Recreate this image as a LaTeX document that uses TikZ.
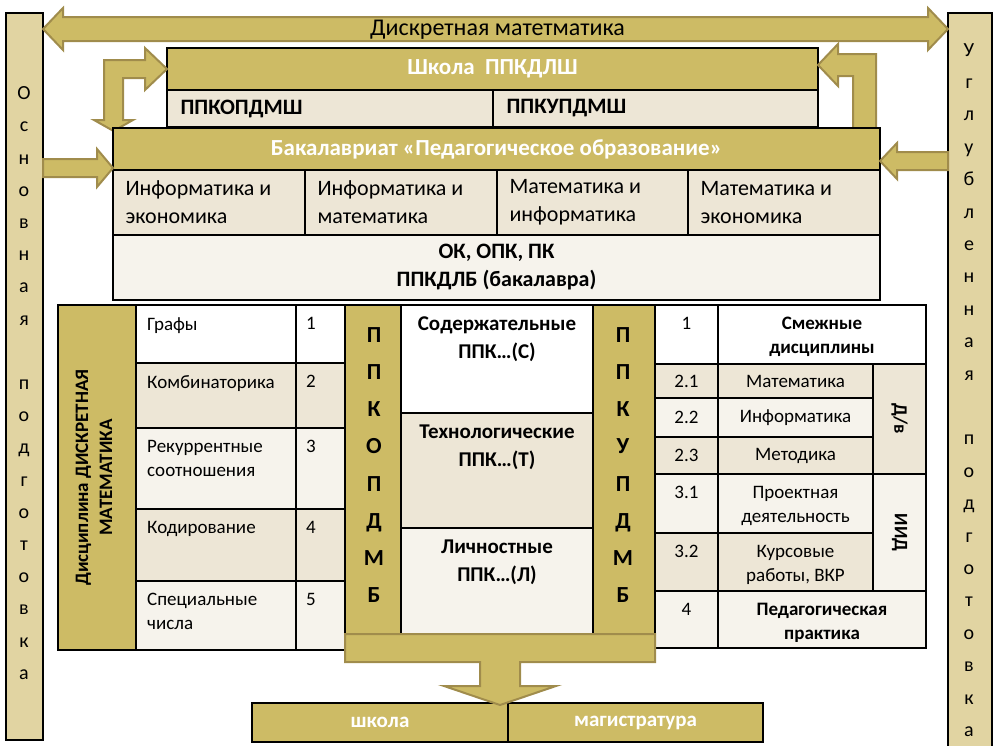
\documentclass[tikz,border=0pt]{standalone}
\usepackage{fontspec}
\setmainfont{Carlito}
\usetikzlibrary{positioning,calc}

\definecolor{gold}{RGB}{205,187,101}
\definecolor{goldedge}{RGB}{160,140,76}
\definecolor{sand}{RGB}{225,212,162}
\definecolor{beige}{RGB}{237,230,214}
\definecolor{cream}{RGB}{246,243,236}

\begin{document}
\begin{tikzpicture}[x=1pt, y=-1pt,
    cell/.style={draw, line width=1.5pt, anchor=north west, inner sep=0pt, outer sep=0pt},
    goldarrow/.style={fill=gold, draw=goldedge, line width=2pt, line join=miter},
    hdr/.style={text=white, font=\fontsize{23}{28}\selectfont\bfseries},
    big/.style={font=\fontsize{22}{28}\selectfont},
    bigbold/.style={font=\fontsize{22}{28}\selectfont\bfseries},
    small/.style={font=\fontsize{19}{24}\selectfont},
    smallbold/.style={font=\fontsize{19}{24}\selectfont\bfseries},
    midbold/.style={font=\fontsize{21}{28}\selectfont\bfseries},
    letters/.style={align=center, inner sep=0pt, font=\fontsize{20}{32.2}\selectfont},
    ]
    \useasboundingbox (0,0) rectangle (993,745);

    % side bars
    \node[cell, fill=sand, minimum width=37pt, minimum height=727pt] (lbar) at (6,13) {};
    \node[cell, fill=sand, minimum width=44pt, minimum height=736pt] (rbar) at (948,13) {};
    \node[letters] (lbartext) at (24,383) {О\\с\\н\\о\\в\\н\\а\\я\\[32.2pt]п\\о\\д\\г\\о\\т\\о\\в\\к\\а};
    \node[letters, font=\fontsize{20}{32.4}\selectfont] (rbartext) at (969,390) {У\\г\\л\\у\\б\\л\\е\\н\\н\\а\\я\\[32.4pt]п\\о\\д\\г\\о\\т\\о\\в\\к\\а};

    % top double arrow
    \coordinate (dmL) at ($(lbar.north east)+(0,16)$);
    \coordinate (dmR) at ($(rbar.north west)+(0,16)$);
    \draw[goldarrow] (dmL) -- ++(20,-21) -- ++(0,9) -- ($(dmR)+(-20,-12)$) -- ++(0,-9) -- (dmR)
        -- ++(-20,21) -- ++(0,-9) -- ($(dmL)+(20,12)$) -- ++(0,9) -- cycle;
    \node[font=\fontsize{24}{29}\selectfont] (dmtext) at ($(dmL)!0.5!(dmR)+(2,1)$) {Дискретная матетматика};

    % school
    \node[cell, fill=gold, minimum width=651pt, minimum height=42pt] (sch) at (167,48) {};
    \node[hdr] (schtext) at (sch.center) {Школа\ \ ППКДЛШ};
    \node[cell, fill=beige, minimum width=326pt, minimum height=37pt] (schL) at (167,90) {};
    \node[cell, fill=beige, minimum width=325pt, minimum height=37pt] (schR) at (493,90) {};
    \node[bigbold, anchor=west] (schLtext) at ([xshift=10pt]schL.west) {ППКОПДМШ};
    \node[bigbold, anchor=west] (schRtext) at ([xshift=10pt]schR.west) {ППКУПДМШ};

    % bent arrows between school and bachelor
    \draw[goldarrow] (sch.west) -- ++(-22,-21) -- ++(0,12) -- ++(-41,0) -- ++(0,60) -- ++(-10,0)
        -- ++(19.5,11) -- ++(19.5,-11) -- ++(-10,0) -- ++(0,-42) -- ++(22,0) -- ++(0,12) -- cycle;
    \draw[goldarrow] ($(sch.east)+(0,-4)$) -- ++(20,-21) -- ++(0,10) -- ++(38,0) -- ++(0,78)
        -- ++(-23,0) -- ++(0,-56) -- ++(-15,0) -- ++(0,10) -- cycle;

    % bachelor
    \node[cell, fill=gold, minimum width=767pt, minimum height=42pt] (bach) at (113,128) {};
    \node[hdr] (bachtext) at (bach.center) {Бакалавриат «Педагогическое образование»};
    \node[cell, fill=beige, minimum width=192pt, minimum height=65pt] (b1) at (113,170) {};
    \node[cell, fill=beige, minimum width=192pt, minimum height=65pt] (b2) at (305,170) {};
    \node[cell, fill=beige, minimum width=191pt, minimum height=65pt] (b3) at (497,170) {};
    \node[cell, fill=beige, minimum width=192pt, minimum height=65pt] (b4) at (688,170) {};
    \node[big, anchor=west, align=left] (b1text) at ([xshift=9pt]b1.west) {Информатика и\\экономика};
    \node[big, anchor=west, align=left] (b2text) at ([xshift=9pt]b2.west) {Информатика и\\математика};
    \node[big, anchor=west, align=left] (b3text) at ([xshift=9pt]b3.west) {Математика и\\информатика};
    \node[big, anchor=west, align=left] (b4text) at ([xshift=9pt]b4.west) {Математика и\\экономика};
    \node[cell, fill=cream, minimum width=767pt, minimum height=65pt] (bok) at (113,235) {};
    \node[bigbold, align=center] (boktext) at (bok.center) {ОК, ОПК, ПК\\ППКДЛБ (бакалавра)};

    % side arrows into bachelor
    \draw[goldarrow] ($(bach.south west)+(0,-2)$) -- ++(-16,-19) -- ++(0,10) -- ++(-54,0) -- ++(0,18)
        -- ++(54,0) -- ++(0,10) -- cycle;
    \draw[goldarrow] ($(bach.east)+(0,12)$) -- ++(17,-18) -- ++(0,9) -- ++(51,0) -- ++(0,18)
        -- ++(-51,0) -- ++(0,9) -- cycle;

    % discipline table
    \node[cell, fill=gold, minimum width=78pt, minimum height=345pt] (disc) at (58,305) {};
    \node[smallbold, rotate=90, align=center] (disctext) at ([xshift=-3pt]disc.center) {Дисциплина ДИСКРЕТНАЯ\\МАТЕМАТИКА};
    \node[cell, fill=white, minimum width=160pt, minimum height=58pt] (c1) at (136,305) {};
    \node[cell, fill=beige, minimum width=160pt, minimum height=65pt] (c2) at (136,363) {};
    \node[cell, fill=cream, minimum width=160pt, minimum height=81pt] (c3) at (136,428) {};
    \node[cell, fill=beige, minimum width=160pt, minimum height=72pt] (c4) at (136,509) {};
    \node[cell, fill=cream, minimum width=160pt, minimum height=69pt] (c5) at (136,581) {};
    \node[cell, fill=white, minimum width=49pt, minimum height=58pt] (n1) at (296,305) {};
    \node[cell, fill=beige, minimum width=49pt, minimum height=65pt] (n2) at (296,363) {};
    \node[cell, fill=cream, minimum width=49pt, minimum height=81pt] (n3) at (296,428) {};
    \node[cell, fill=beige, minimum width=49pt, minimum height=72pt] (n4) at (296,509) {};
    \node[cell, fill=cream, minimum width=49pt, minimum height=69pt] (n5) at (296,581) {};
    \node[small, anchor=north west, inner sep=0pt, align=left] (c1text) at ([xshift=11pt,yshift=-12pt]c1.north west) {Графы};
    \node[small, anchor=north west, inner sep=0pt, align=left] (c2text) at ([xshift=11pt,yshift=-12pt]c2.north west) {Комбинаторика};
    \node[small, anchor=north west, inner sep=0pt, align=left] (c3text) at ([xshift=11pt,yshift=-12pt]c3.north west) {Рекуррентные\\соотношения};
    \node[small, anchor=north west, inner sep=0pt, align=left] (c4text) at ([xshift=11pt,yshift=-12pt]c4.north west) {Кодирование};
    \node[small, anchor=north west, inner sep=0pt, align=left] (c5text) at ([xshift=11pt,yshift=-12pt]c5.north west) {Специальные\\числа};
    \node[small, anchor=north west, inner sep=0pt] (n1text) at ([xshift=10pt,yshift=-12pt]n1.north west) {1};
    \node[small, anchor=north west, inner sep=0pt] (n2text) at ([xshift=10pt,yshift=-12pt]n2.north west) {2};
    \node[small, anchor=north west, inner sep=0pt] (n3text) at ([xshift=10pt,yshift=-12pt]n3.north west) {3};
    \node[small, anchor=north west, inner sep=0pt] (n4text) at ([xshift=10pt,yshift=-12pt]n4.north west) {4};
    \node[small, anchor=north west, inner sep=0pt] (n5text) at ([xshift=10pt,yshift=-12pt]n5.north west) {5};

    % competence columns
    \node[cell, fill=gold, minimum width=56pt, minimum height=329pt] (kop) at (345,305) {};
    \node[cell, fill=gold, minimum width=62pt, minimum height=329pt] (kup) at (593,305) {};
    \node[letters, font=\fontsize{23}{37.1}\selectfont\bfseries] (koptext) at (374,465) {П\\П\\К\\О\\П\\Д\\М\\Б};
    \node[letters, font=\fontsize{23}{37.1}\selectfont\bfseries] (kuptext) at (623,465) {П\\П\\К\\У\\П\\Д\\М\\Б};
    \node[cell, fill=white, minimum width=192pt, minimum height=108pt] (s1) at (401,305) {};
    \node[cell, fill=beige, minimum width=192pt, minimum height=115pt] (s2) at (401,413) {};
    \node[cell, fill=cream, minimum width=192pt, minimum height=106pt] (s3) at (401,528) {};
    \node[midbold, anchor=north, inner sep=0pt, align=center] (s1text) at ([yshift=-12pt]s1.north) {Содержательные\\ППК…(С)};
    \node[midbold, anchor=north, inner sep=0pt, align=center] (s2text) at ([yshift=-12pt]s2.north) {Технологические\\ППК…(Т)};
    \node[midbold, anchor=north, inner sep=0pt, align=center] (s3text) at ([yshift=-12pt]s3.north) {Личностные\\ППК…(Л)};

    % related disciplines table
    \node[cell, fill=white, minimum width=63pt, minimum height=59pt] (r1n) at (655,305) {};
    \node[cell, fill=white, minimum width=208pt, minimum height=59pt] (r1t) at (718,305) {};
    \node[cell, fill=beige, minimum width=63pt, minimum height=34pt] (r21n) at (655,364) {};
    \node[cell, fill=beige, minimum width=155pt, minimum height=34pt] (r21t) at (718,364) {};
    \node[cell, fill=cream, minimum width=63pt, minimum height=39pt] (r22n) at (655,398) {};
    \node[cell, fill=cream, minimum width=155pt, minimum height=39pt] (r22t) at (718,398) {};
    \node[cell, fill=beige, minimum width=63pt, minimum height=37pt] (r23n) at (655,437) {};
    \node[cell, fill=beige, minimum width=155pt, minimum height=37pt] (r23t) at (718,437) {};
    \node[cell, fill=beige, minimum width=53pt, minimum height=110pt] (dv) at (873,364) {};
    \node[cell, fill=cream, minimum width=63pt, minimum height=59pt] (r31n) at (655,474) {};
    \node[cell, fill=cream, minimum width=155pt, minimum height=59pt] (r31t) at (718,474) {};
    \node[cell, fill=beige, minimum width=63pt, minimum height=58pt] (r32n) at (655,533) {};
    \node[cell, fill=beige, minimum width=155pt, minimum height=58pt] (r32t) at (718,533) {};
    \node[cell, fill=cream, minimum width=53pt, minimum height=117pt] (iid) at (873,474) {};
    \node[cell, fill=cream, minimum width=63pt, minimum height=57pt] (r4n) at (655,591) {};
    \node[cell, fill=cream, minimum width=208pt, minimum height=57pt] (r4t) at (718,591) {};
    \node[small, anchor=north, inner sep=0pt] (r1ntext) at ([yshift=-12pt]r1n.north) {1};
    \node[smallbold, anchor=north, inner sep=0pt, align=center] (r1ttext) at ([yshift=-12pt]r1t.north) {Смежные\\дисциплины};
    \node[small] (r21ntext) at (r21n.center) {2.1};
    \node[small] (r21ttext) at (r21t.center) {Математика};
    \node[small] (r22ntext) at (r22n.center) {2.2};
    \node[small] (r22ttext) at (r22t.center) {Информатика};
    \node[small] (r23ntext) at (r23n.center) {2.3};
    \node[small] (r23ttext) at (r23t.center) {Методика};
    \node[smallbold, rotate=-90] (dvtext) at (dv.center) {Д/в};
    \node[small, anchor=north, inner sep=0pt] (r31ntext) at ([yshift=-12pt]r31n.north) {3.1};
    \node[small, anchor=north, inner sep=0pt, align=center] (r31ttext) at ([yshift=-12pt]r31t.north) {Проектная\\деятельность};
    \node[small, anchor=north, inner sep=0pt] (r32ntext) at ([yshift=-12pt]r32n.north) {3.2};
    \node[small, anchor=north, inner sep=0pt, align=center] (r32ttext) at ([yshift=-12pt]r32t.north) {Курсовые\\работы, ВКР};
    \node[smallbold, rotate=-90] (iidtext) at (iid.center) {ИИД};
    \node[small, anchor=north, inner sep=0pt] (r4ntext) at ([yshift=-12pt]r4n.north) {4};
    \node[smallbold, anchor=north, inner sep=0pt, align=center] (r4ttext) at ([yshift=-12pt]r4t.north) {Педагогическая\\практика};

    % outcome
    \node[cell, fill=gold, minimum width=256pt, minimum height=39pt] (skl) at (252,703) {};
    \node[cell, fill=gold, minimum width=255pt, minimum height=39pt] (mag) at (508,703) {};
    \node[text=white, font=\fontsize{21}{26}\selectfont\bfseries] (skltext) at (skl.center) {школа};
    \node[text=white, font=\fontsize{21}{26}\selectfont\bfseries] (magtext) at (mag.center) {магистратура};
    \draw[goldarrow] (kop.south west) -- (kup.south east) -- ++(0,28) -- ++(-135,0) -- ++(0,24) -- ++(36,0)
        -- ($(skl.north east)+(-8,2)$) -- ++(-56,-19) -- ++(36,0) -- ++(0,-24) -- ++(-135,0) -- cycle;
\end{tikzpicture}
\end{document}
